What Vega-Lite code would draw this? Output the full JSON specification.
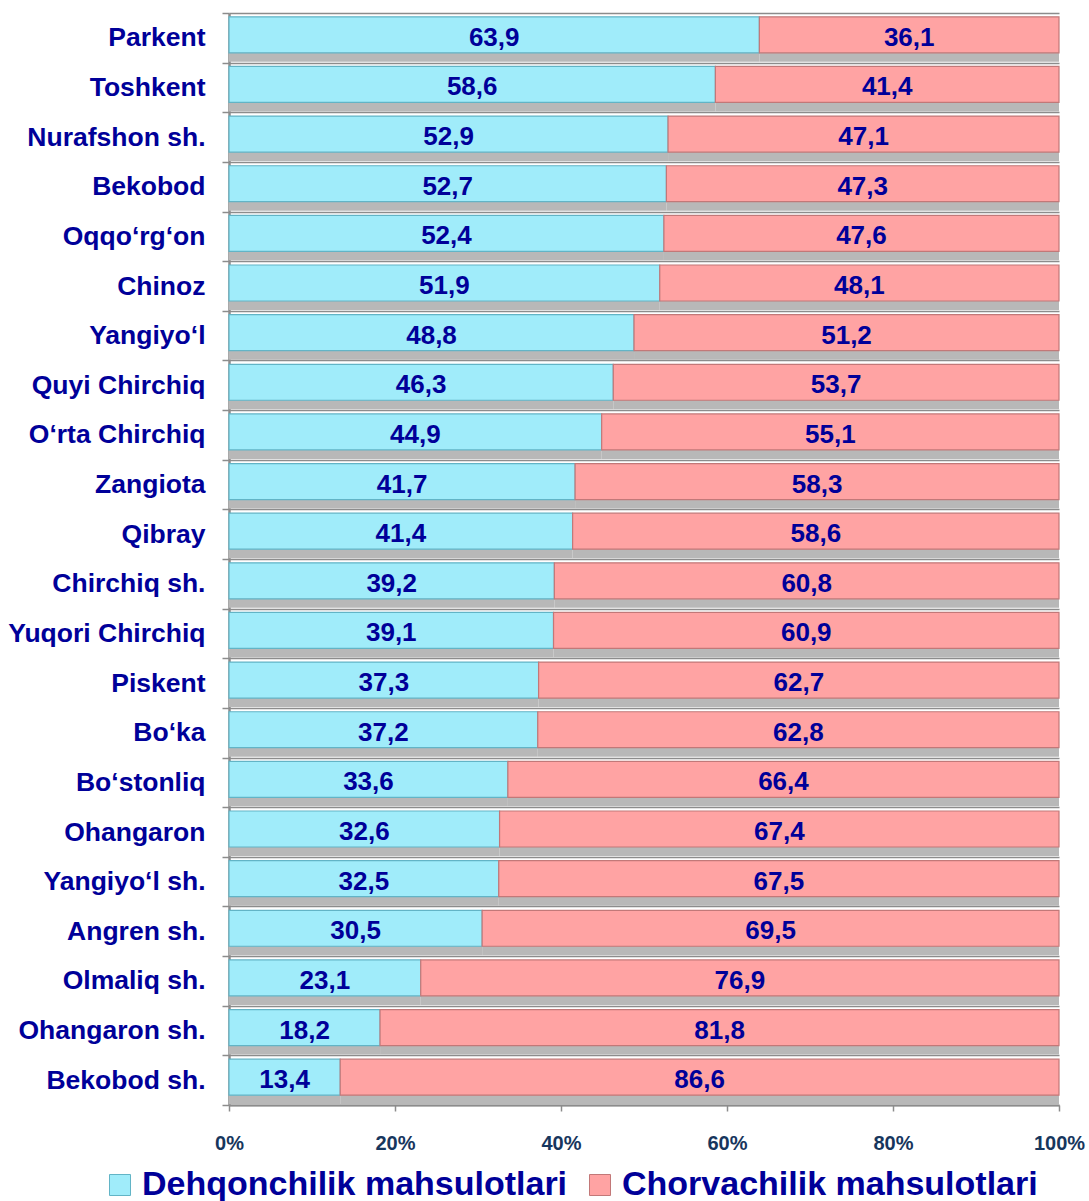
{
  "$schema": "https://vega.github.io/schema/vega-lite/v6.json",
  "width": 830,
  "height": 1092,
  "autosize": {"type": "none"},
  "padding": {"left": 229, "top": 13, "right": 30, "bottom": 96},
  "background": "white",
  "config": {"view": {"stroke": null}, "font": "Liberation Sans"},
  "data": {
    "values": [
      {"region": "Parkent", "type": "Dehqonchilik mahsulotlari", "value": 63.9},
      {"region": "Parkent", "type": "Chorvachilik mahsulotlari", "value": 36.1},
      {"region": "Toshkent", "type": "Dehqonchilik mahsulotlari", "value": 58.6},
      {"region": "Toshkent", "type": "Chorvachilik mahsulotlari", "value": 41.4},
      {"region": "Nurafshon sh.", "type": "Dehqonchilik mahsulotlari", "value": 52.9},
      {"region": "Nurafshon sh.", "type": "Chorvachilik mahsulotlari", "value": 47.1},
      {"region": "Bekobod", "type": "Dehqonchilik mahsulotlari", "value": 52.7},
      {"region": "Bekobod", "type": "Chorvachilik mahsulotlari", "value": 47.3},
      {"region": "Oqqo‘rg‘on", "type": "Dehqonchilik mahsulotlari", "value": 52.4},
      {"region": "Oqqo‘rg‘on", "type": "Chorvachilik mahsulotlari", "value": 47.6},
      {"region": "Chinoz", "type": "Dehqonchilik mahsulotlari", "value": 51.9},
      {"region": "Chinoz", "type": "Chorvachilik mahsulotlari", "value": 48.1},
      {"region": "Yangiyo‘l", "type": "Dehqonchilik mahsulotlari", "value": 48.8},
      {"region": "Yangiyo‘l", "type": "Chorvachilik mahsulotlari", "value": 51.2},
      {"region": "Quyi Chirchiq", "type": "Dehqonchilik mahsulotlari", "value": 46.3},
      {"region": "Quyi Chirchiq", "type": "Chorvachilik mahsulotlari", "value": 53.7},
      {"region": "O‘rta Chirchiq", "type": "Dehqonchilik mahsulotlari", "value": 44.9},
      {"region": "O‘rta Chirchiq", "type": "Chorvachilik mahsulotlari", "value": 55.1},
      {"region": "Zangiota", "type": "Dehqonchilik mahsulotlari", "value": 41.7},
      {"region": "Zangiota", "type": "Chorvachilik mahsulotlari", "value": 58.3},
      {"region": "Qibray", "type": "Dehqonchilik mahsulotlari", "value": 41.4},
      {"region": "Qibray", "type": "Chorvachilik mahsulotlari", "value": 58.6},
      {"region": "Chirchiq sh.", "type": "Dehqonchilik mahsulotlari", "value": 39.2},
      {"region": "Chirchiq sh.", "type": "Chorvachilik mahsulotlari", "value": 60.8},
      {"region": "Yuqori Chirchiq", "type": "Dehqonchilik mahsulotlari", "value": 39.1},
      {"region": "Yuqori Chirchiq", "type": "Chorvachilik mahsulotlari", "value": 60.9},
      {"region": "Piskent", "type": "Dehqonchilik mahsulotlari", "value": 37.3},
      {"region": "Piskent", "type": "Chorvachilik mahsulotlari", "value": 62.7},
      {"region": "Bo‘ka", "type": "Dehqonchilik mahsulotlari", "value": 37.2},
      {"region": "Bo‘ka", "type": "Chorvachilik mahsulotlari", "value": 62.8},
      {"region": "Bo‘stonliq", "type": "Dehqonchilik mahsulotlari", "value": 33.6},
      {"region": "Bo‘stonliq", "type": "Chorvachilik mahsulotlari", "value": 66.4},
      {"region": "Ohangaron", "type": "Dehqonchilik mahsulotlari", "value": 32.6},
      {"region": "Ohangaron", "type": "Chorvachilik mahsulotlari", "value": 67.4},
      {"region": "Yangiyo‘l sh.", "type": "Dehqonchilik mahsulotlari", "value": 32.5},
      {"region": "Yangiyo‘l sh.", "type": "Chorvachilik mahsulotlari", "value": 67.5},
      {"region": "Angren sh.", "type": "Dehqonchilik mahsulotlari", "value": 30.5},
      {"region": "Angren sh.", "type": "Chorvachilik mahsulotlari", "value": 69.5},
      {"region": "Olmaliq sh.", "type": "Dehqonchilik mahsulotlari", "value": 23.1},
      {"region": "Olmaliq sh.", "type": "Chorvachilik mahsulotlari", "value": 76.9},
      {"region": "Ohangaron sh.", "type": "Dehqonchilik mahsulotlari", "value": 18.2},
      {"region": "Ohangaron sh.", "type": "Chorvachilik mahsulotlari", "value": 81.8},
      {"region": "Bekobod sh.", "type": "Dehqonchilik mahsulotlari", "value": 13.4},
      {"region": "Bekobod sh.", "type": "Chorvachilik mahsulotlari", "value": 86.6}
    ]
  },
  "transform": [
    {"stack": "value", "groupby": ["region"], "sort": [{"field": "type", "order": "descending"}], "as": ["v0", "v1"]},
    {"calculate": "(datum.v0 + datum.v1) / 2", "as": "mid"},
    {"calculate": "replace(format(datum.value, '.1f'), '.', ',')", "as": "label"}
  ],
  "encoding": {
    "y": {
      "field": "region",
      "type": "nominal",
      "sort": null,
      "title": null,
      "scale": {"paddingInner": 0, "paddingOuter": 0},
      "axis": {
        "tickBand": "extent",
        "grid": true,
        "gridColor": "#8C8C8C",
        "gridWidth": 1.5,
        "tickColor": "#8C8C8C",
        "tickWidth": 1.5,
        "tickSize": 7,
        "domainColor": "#8C8C8C",
        "domainWidth": 2.5,
        "labelFont": "Liberation Sans",
        "labelFontSize": 26.5,
        "labelFontWeight": "bold",
        "labelColor": "#000099",
        "labelPadding": 17,
        "labelLimit": 300
      }
    }
  },
  "layer": [
    {
      "mark": {"type": "bar", "height": {"band": 0.725}, "yOffset": 6, "color": "#B8B8B8"},
      "encoding": {
        "x": {
          "field": "v0",
          "type": "quantitative",
          "title": null,
          "scale": {"domain": [0, 100], "nice": false},
          "axis": {
            "values": [0, 20, 40, 60, 80, 100],
            "labelExpr": "datum.value + '%'",
            "grid": false,
            "labelFont": "Liberation Sans",
            "labelFontSize": 20,
            "labelFontWeight": "bold",
            "labelColor": "#17365D",
            "labelPadding": 22,
            "labelFlush": false,
            "tickColor": "#8C8C8C",
            "tickWidth": 1.5,
            "tickSize": 6,
            "domainColor": "#8C8C8C",
            "domainWidth": 2
          }
        },
        "x2": {"field": "v1"}
      }
    },
    {
      "mark": {"type": "bar", "height": {"band": 0.725}, "yOffset": -3, "strokeWidth": 1.2},
      "encoding": {
        "x": {"field": "v0", "type": "quantitative", "title": null},
        "x2": {"field": "v1"},
        "color": {
          "field": "type",
          "type": "nominal",
          "scale": {"domain": ["Dehqonchilik mahsulotlari", "Chorvachilik mahsulotlari"], "range": ["#A0ECFA", "#FFA3A3"]},
          "legend": {
            "orient": "none",
            "legendX": -126,
            "legendY": 1155,
            "direction": "horizontal",
            "title": null,
            "padding": 0,
            "symbolType": "square",
            "symbolSize": 441,
            "symbolStrokeColor": "#8AB8C4",
            "symbolStrokeWidth": 1,
            "labelFont": "Liberation Sans",
            "labelFontSize": 34,
            "labelFontWeight": "bold",
            "labelColor": "#000099",
            "labelLimit": 700,
            "labelOffset": 5,
            "columnPadding": 15
          }
        },
        "stroke": {
          "field": "type",
          "type": "nominal",
          "scale": {"domain": ["Dehqonchilik mahsulotlari", "Chorvachilik mahsulotlari"], "range": ["#62B4C6", "#C27878"]},
          "legend": null
        }
      }
    },
    {
      "mark": {"type": "text", "font": "Liberation Sans", "fontWeight": "bold", "fontSize": 26, "color": "#000099", "baseline": "middle", "align": "center"},
      "encoding": {
        "x": {"field": "mid", "type": "quantitative", "title": null},
        "text": {"field": "label"}
      }
    }
  ]
}
